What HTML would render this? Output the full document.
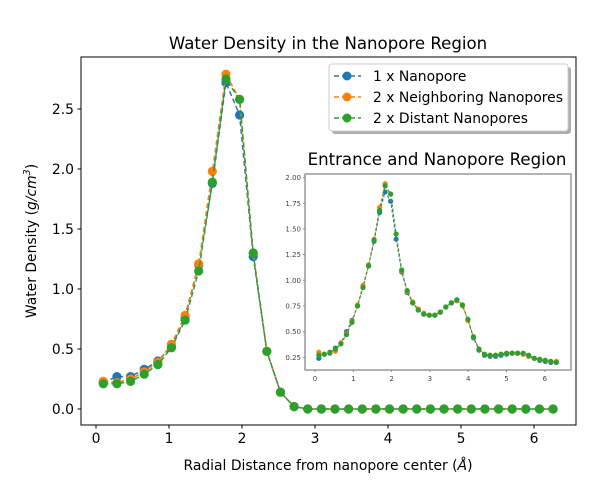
<!DOCTYPE html>
<html><head><meta charset="utf-8"><style>
body{margin:0;background:#fff}
svg{display:block;font-family:"DejaVu Sans","Liberation Sans",sans-serif}
</style></head><body>
<svg id="chart" width="609" height="497" viewBox="0 0 609 497" xmlns="http://www.w3.org/2000/svg">
<rect width="609" height="497" fill="#fff"/>
<text x="328" y="49" font-size="16.6" text-anchor="middle">Water Density in the Nanopore Region</text>
<g id="main"></g>
<g id="inset"></g>
<text x="328" y="470" font-size="13.9" text-anchor="middle">Radial Distance from nanopore center (<tspan font-style="italic">Å</tspan>)</text>
<text transform="translate(36,241) rotate(-90)" font-size="13.9" text-anchor="middle">Water Density (<tspan font-style="italic">g/cm</tspan><tspan font-size="9.5" dy="-6" font-style="italic">3</tspan><tspan dy="6">)</tspan></text>
<text x="437" y="165" font-size="16.6" text-anchor="middle">Entrance and Nanopore Region</text>
<g>
<rect x="332" y="67" width="239" height="67" rx="3" fill="#777" opacity="0.6"/>
<rect x="329" y="64" width="239" height="67" rx="3" fill="#fff" stroke="#ccc"/>
<g><line x1="334" y1="76" x2="361" y2="76" stroke="#1f77b4" stroke-width="1.5" stroke-dasharray="5,3"/><circle cx="347" cy="76" r="4.5" fill="#1f77b4"/><text x="373" y="81" font-size="13.9">1 x Nanopore</text></g>
<g><line x1="334" y1="97" x2="361" y2="97" stroke="#ff7f0e" stroke-width="1.5" stroke-dasharray="5,3"/><circle cx="347" cy="97" r="4.5" fill="#ff7f0e"/><text x="373" y="102" font-size="13.9">2 x Neighboring Nanopores</text></g>
<g><line x1="334" y1="118" x2="361" y2="118" stroke="#2ca02c" stroke-width="1.5" stroke-dasharray="5,3"/><circle cx="347" cy="118" r="4.5" fill="#2ca02c"/><text x="373" y="123" font-size="13.9">2 x Distant Nanopores</text></g>
</g>
</svg>
<script>
const mainX0 = 0.1, mainStep = 0.1867;
const mainBlue = [0.22,0.27,0.27,0.33,0.40,0.52,0.76,1.20,1.88,2.72,2.45,1.27,0.48,0.14,0.02,0,0,0,0,0,0,0,0,0,0,0,0,0,0,0,0,0,0,0];
const mainOrange = [0.23,0.22,0.25,0.31,0.39,0.54,0.78,1.21,1.98,2.79,2.58,1.30,0.48,0.14,0.02,0,0,0,0,0,0,0,0,0,0,0,0,0,0,0,0,0,0,0];
const mainGreen = [0.21,0.21,0.23,0.29,0.37,0.51,0.74,1.15,1.89,2.75,2.58,1.30,0.48,0.14,0.02,0,0,0,0,0,0,0,0,0,0,0,0,0,0,0,0,0,0,0];
const mainXTicks = [0,1,2,3,4,5,6];
const mainYTicks = ["0.0","0.5","1.0","1.5","2.0","2.5"];
const insX0 = 0.1, insStep = 0.1442;
const insGreen = [0.27,0.28,0.30,0.33,0.38,0.47,0.59,0.75,0.93,1.14,1.39,1.68,1.92,1.84,1.45,1.10,0.90,0.78,0.71,0.67,0.66,0.66,0.69,0.74,0.78,0.81,0.76,0.62,0.45,0.33,0.28,0.27,0.27,0.28,0.29,0.29,0.29,0.29,0.27,0.24,0.23,0.22,0.21,0.20];
const insBlue = [0.24,0.28,0.29,0.34,0.39,0.50,0.61,0.75,0.93,1.14,1.38,1.66,1.86,1.77,1.40,1.08,0.88,0.78,0.71,0.67,0.66,0.66,0.69,0.74,0.78,0.81,0.76,0.61,0.44,0.32,0.27,0.26,0.26,0.27,0.28,0.29,0.29,0.28,0.26,0.24,0.22,0.21,0.20,0.20];
const insOrange = [0.30,0.28,0.30,0.31,0.39,0.48,0.60,0.76,0.95,1.15,1.40,1.71,1.94,1.84,1.45,1.09,0.89,0.79,0.72,0.68,0.66,0.66,0.69,0.74,0.78,0.80,0.75,0.61,0.45,0.33,0.28,0.27,0.27,0.28,0.29,0.29,0.29,0.28,0.26,0.24,0.23,0.22,0.21,0.21];
const insXTicks = [0,1,2,3,4,5,6];
const insYTicks = ["0.25","0.50","0.75","1.00","1.25","1.50","1.75","2.00"];
const NS="http://www.w3.org/2000/svg";
function mk(tag,attrs,parent){const e=document.createElementNS(NS,tag);for(const k in attrs)e.setAttribute(k,attrs[k]);parent.appendChild(e);return e;}
const colors={blue:"#1f77b4",orange:"#ff7f0e",green:"#2ca02c"};
function drawAxes(g,box,xs,ys,xt,yt,fs,spine,prefix){
  const bg=mk('rect',{x:box.l,y:box.t,width:box.r-box.l,height:box.b-box.t,fill:'#fff',stroke:spine,'stroke-width':prefix==='inset'?1.5:1},g);
  
  
  xt.forEach(v=>{
    const x=xs(v);
    mk('line',{x1:x,y1:box.b,x2:x,y2:box.b+(prefix==='inset'?2:3.5),stroke:prefix==='inset'?'#888':'#000'},g);
    const t=mk('text',{x:x,y:box.b+(prefix==='inset'?11:18),'font-size':fs,'text-anchor':'middle',fill:prefix==='inset'?'#444':'#000'},g);
    t.textContent=v;
    
    
  });
  yt.forEach(s=>{
    const y=ys(parseFloat(s));
    mk('line',{x1:box.l,y1:y,x2:box.l-(prefix==='inset'?2:3.5),y2:y,stroke:prefix==='inset'?'#888':'#000'},g);
    const t=mk('text',{x:box.l-(prefix==='inset'?4:7),y:y+fs*0.36,'font-size':fs,'text-anchor':'end',fill:prefix==='inset'?'#444':'#000'},g);
    t.textContent=s;
    
    
  });
}
function drawSeries(g,xs,ys,x0,step,vals,col,r,lw,name){
  const s=mk('g',{},g);
  
  
  const pts=vals.map((v,i)=>[xs(x0+i*step),ys(v)]);
  mk('polyline',{points:pts.map(p=>p.join(',')).join(' '),fill:'none',stroke:col,'stroke-width':lw,'stroke-dasharray':lw>1.2?'5,3':'3,2'},s);
  pts.forEach(p=>{const c=mk('circle',{cx:p[0],cy:p[1],r:r,fill:col},s);
    
    });
}
const gm=document.getElementById('main');
const mb={l:81,r:576,t:57,b:425};
const mxs=v=>96+v*73.0, mys=v=>409-v*120;
drawAxes(gm,mb,mxs,mys,mainXTicks,mainYTicks,13.9,'#000','main');
drawSeries(gm,mxs,mys,mainX0,mainStep,mainBlue,colors.blue,4.6,1.5,'main-series-1-nanopore');
drawSeries(gm,mxs,mys,mainX0,mainStep,mainOrange,colors.orange,4.6,1.5,'main-series-2-neighboring');
drawSeries(gm,mxs,mys,mainX0,mainStep,mainGreen,colors.green,4.6,1.5,'main-series-2-distant');
const gi=document.getElementById('inset');
const ib={l:305,r:571,t:174,b:370};
const ixs=v=>315+v*38.3, iys=v=>357.3-(v-0.25)*102.7;
drawAxes(gi,ib,ixs,iys,insXTicks,insYTicks,7,'#999','inset');
drawSeries(gi,ixs,iys,insX0,insStep,insBlue,colors.blue,2.6,1,'inset-series-1-nanopore');
drawSeries(gi,ixs,iys,insX0,insStep,insOrange,colors.orange,2.6,1,'inset-series-2-neighboring');
drawSeries(gi,ixs,iys,insX0,insStep,insGreen,colors.green,2.6,1,'inset-series-2-distant');
</script>
</body></html>
